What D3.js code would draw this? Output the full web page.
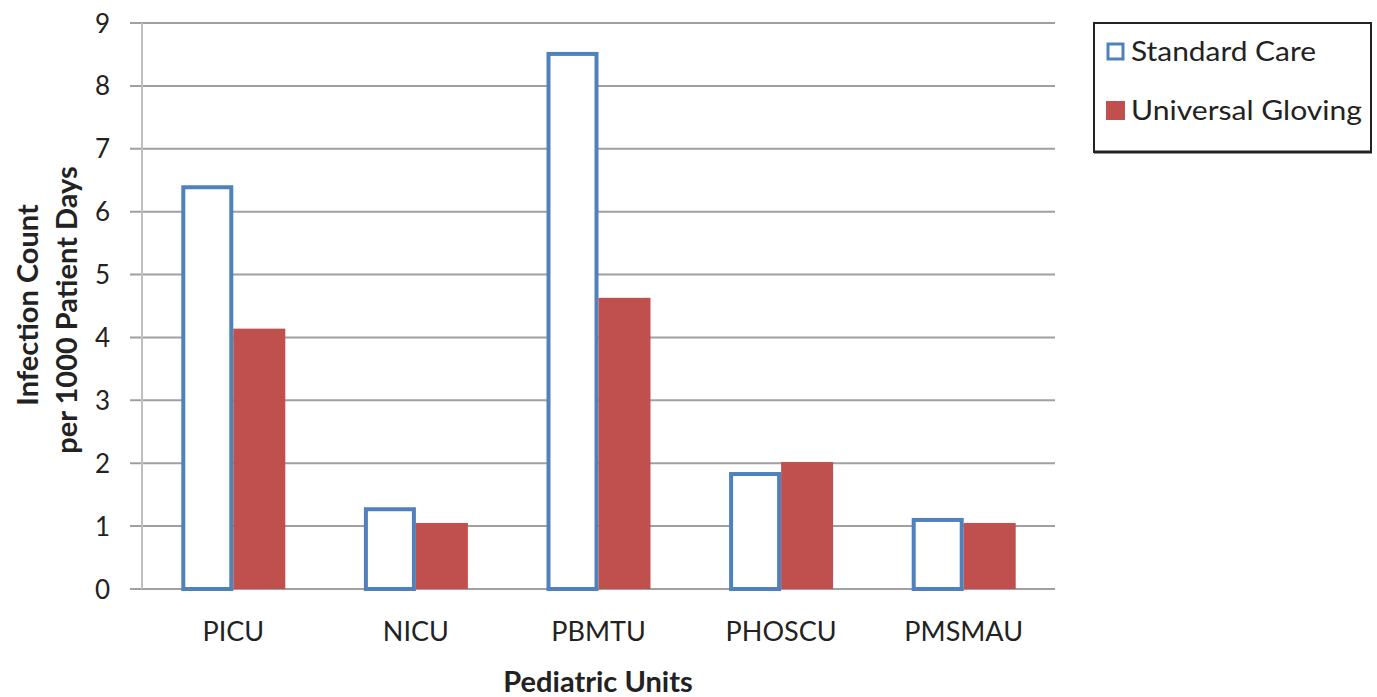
<!DOCTYPE html>
<html><head><meta charset="utf-8">
<script src="https://cdn.jsdelivr.net/npm/d3@7"></script>
<style>body{margin:0;background:#fff}svg{display:block}text{font-family:Lato,"Open Sans",sans-serif;fill:#222}</style>
</head><body><svg id="c" width="1377" height="697"></svg>
<script>
const categories = ["PICU","NICU","PBMTU","PHOSCU","PMSMAU"];
const seriesNames = ["Standard Care","Universal Gloving"];
const standardCare = [6.42, 1.30, 8.54, 1.86, 1.13];
const universalGloving = [4.14, 1.05, 4.63, 2.02, 1.05];
const yTicks = [0,1,2,3,4,5,6,7,8,9];

const svg = d3.select("#c");
const m = {left:142, right:1055, top:23, bottom:589};
const x = d3.scaleBand().domain(categories).range([m.left, m.right]).paddingInner(0).paddingOuter(0);
const y = d3.scaleLinear().domain([0,9]).range([m.bottom, m.top]);
const bw = 52;

// gridlines
const g = svg.append("g");
g.selectAll("line.grid").data(yTicks).join("line")
  .attr("x1", 130).attr("x2", m.right).attr("y1", d=>y(d)).attr("y2", d=>y(d))
  .attr("stroke","#a0a0a0").attr("stroke-width",2);
g.append("line").attr("x1",m.left).attr("x2",m.left).attr("y1",m.top).attr("y2",m.bottom)
  .attr("stroke","#bfbfbf").attr("stroke-width",2);

// y axis labels
const yAxis = d3.axisLeft(y).tickValues(yTicks).tickSize(0).tickPadding(0);
const ya = svg.append("g").attr("transform",`translate(110,0)`).call(yAxis);
ya.select(".domain").remove();
ya.selectAll("text").attr("font-size",26).attr("fill","#222").style("font-family","Lato, sans-serif").attr("dy","0.35em");

// x axis labels
const xAxis = d3.axisBottom(x).tickSize(0).tickPadding(0);
const xa = svg.append("g").attr("transform",`translate(0,${m.bottom+43})`).call(xAxis);
xa.select(".domain").remove();
xa.selectAll("text").attr("font-size",27).attr("fill","#222").style("font-family","Lato, sans-serif").attr("dy","0.35em");

// bars
const bars = svg.append("g");
bars.selectAll("rect.sc").data(categories).join("rect")
  .attr("x", (d,i)=>x(d)+x.bandwidth()/2-bw+2)
  .attr("y", (d,i)=>y(standardCare[i])+2)
  .attr("width", bw-4)
  .attr("height", (d,i)=>y(0)-y(standardCare[i])-2)
  .attr("fill","#fff").attr("stroke","#4f81bd").attr("stroke-width",4);
bars.selectAll("rect.ug").data(categories).join("rect")
  .attr("x", (d,i)=>x(d)+x.bandwidth()/2)
  .attr("y", (d,i)=>y(universalGloving[i]))
  .attr("width", bw)
  .attr("height", (d,i)=>y(0)-y(universalGloving[i]))
  .attr("fill","#c0504d");

// axis titles
svg.append("text").attr("x",598).attr("y",682).attr("text-anchor","middle").attr("dy","0.35em")
  .attr("font-size",29).attr("font-weight","bold").text("Pediatric Units");
svg.append("text").attr("transform","translate(28,305) rotate(-90)").attr("text-anchor","middle").attr("dy","0.35em")
  .attr("font-size",29).attr("font-weight","bold").text("Infection Count");
svg.append("text").attr("transform","translate(67,310) rotate(-90)").attr("text-anchor","middle").attr("dy","0.35em")
  .attr("font-size",29).attr("font-weight","bold").text("per 1000 Patient Days");

// legend
const lg = svg.append("g");
lg.append("rect").attr("x",1094).attr("y",23).attr("width",277).attr("height",129)
  .attr("fill","#fff").attr("stroke","#222").attr("stroke-width",2);
lg.append("line").attr("x1",1094).attr("x2",1372).attr("y1",152).attr("y2",152).attr("stroke","#222").attr("stroke-width",3);
const items = [{n:seriesNames[0],y:52},{n:seriesNames[1],y:111}];
lg.append("rect").attr("x",1108).attr("y",44).attr("width",15).attr("height",15).attr("fill","#fff").attr("stroke","#4f81bd").attr("stroke-width",3);
lg.append("rect").attr("x",1106).attr("y",101).attr("width",19).attr("height",19).attr("fill","#c0504d");
lg.selectAll("text").data(items).join("text").attr("x",1131).attr("y",d=>d.y).attr("dy","0.35em")
  .attr("font-size",27).attr("textLength",d=>d.n.length>14?231:185).attr("lengthAdjust","spacingAndGlyphs").text(d=>d.n);
</script></body></html>
